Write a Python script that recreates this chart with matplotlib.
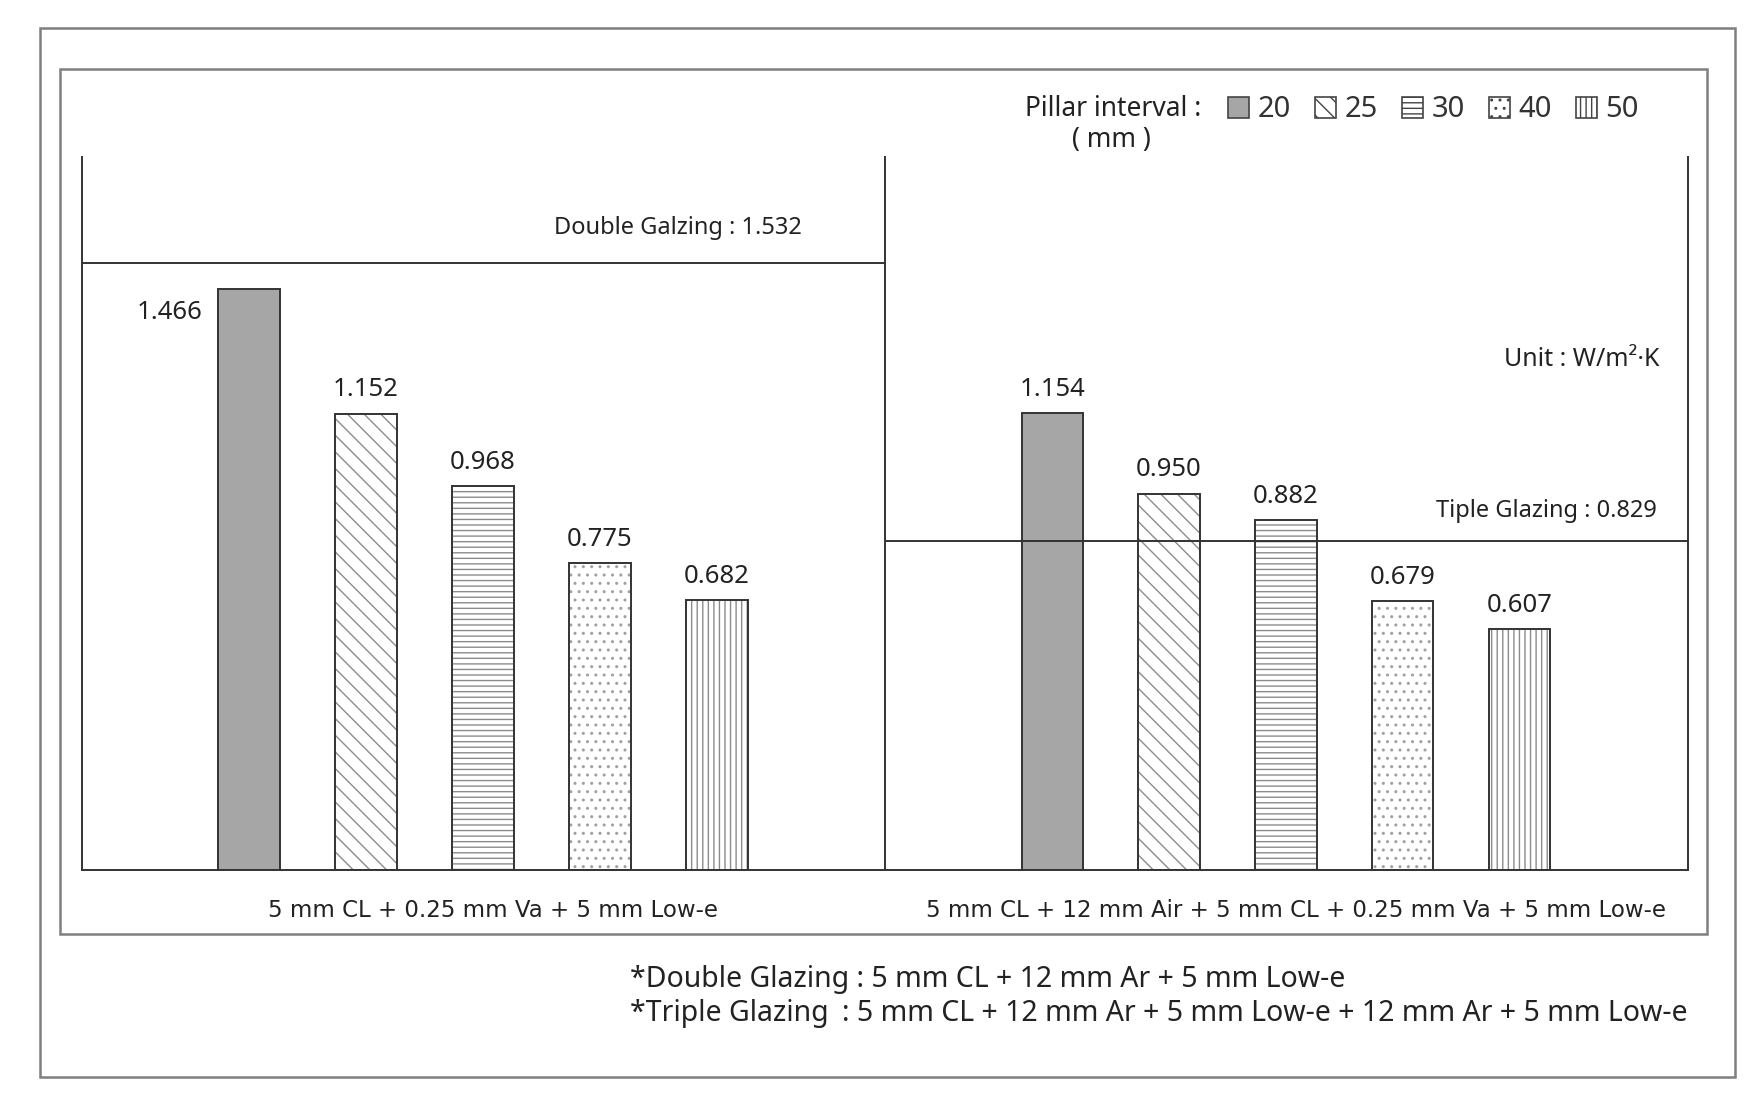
import matplotlib
matplotlib.use("Agg")
import matplotlib.pyplot as plt
from matplotlib.patches import Rectangle, Patch
import numpy as np

plt.rcParams['font.family'] = ['Noto Sans', 'DejaVu Sans']
plt.rcParams['hatch.linewidth'] = 1.0

intervals = ["20", "25", "30", "40", "50"]
vacuum_vals = [1.466, 1.152, 0.968, 0.775, 0.682]
hybrid_vals = [1.154, 0.950, 0.882, 0.679, 0.607]
double_ref = 1.532
triple_ref = 0.829
left_label = "5 mm CL + 0.25 mm Va + 5 mm Low-e"
right_label = "5 mm CL + 12 mm Air + 5 mm CL + 0.25 mm Va + 5 mm Low-e"

fills = ["#a6a6a6", "white", "white", "white", "white"]
hatches = [None, "\\\\", "---", "..", "|||"]
hatch_cols = ["#8c8c8c", "#8c8c8c", "#8c8c8c", "#a0a0a0", "#8c8c8c"]

fig = plt.figure(figsize=(17.56, 11.04), dpi=100)

# frames
fig.patches.append(Rectangle((0.0229, 0.0243), 0.965, 0.9503, transform=fig.transFigure,
                             fill=False, edgecolor="#7f7f7f", lw=1.8, zorder=0))
fig.patches.append(Rectangle((0.0344, 0.1542), 0.9376, 0.7829, transform=fig.transFigure,
                             fill=False, edgecolor="#7f7f7f", lw=1.8, zorder=0))

ax1 = fig.add_axes([0.0465, 0.212, 0.4576, 0.646])
ax2 = fig.add_axes([0.5041, 0.212, 0.4570, 0.646], sharey=ax1)

x = np.arange(len(intervals))
w = 0.526


def draw_group(ax, vals, label):
    for i, v in enumerate(vals):
        ax.bar(x[i], v, w, color=fills[i], hatch=hatches[i], edgecolor=hatch_cols[i],
               linewidth=0, zorder=2)
        ax.bar(x[i], v, w, fill=False, edgecolor="#333333", linewidth=1.4, zorder=3)
    ax.set_xlim(-1.43, 5.44)
    ax.set_ylim(0, 1.8)
    ax.set_yticks([])
    ax.set_xticks([2.09])
    ax.set_xticklabels([label], family="DejaVu Sans", fontsize=16.5, color="#222222")
    ax.tick_params(axis="x", length=0, pad=21)
    ax.spines["top"].set_visible(False)
    for s in ["left", "right", "bottom"]:
        ax.spines[s].set_color("#333333")
        ax.spines[s].set_linewidth(1.4)


draw_group(ax1, vacuum_vals, left_label)
draw_group(ax2, hybrid_vals, right_label)
ax1.spines["right"].set_visible(False)

# value labels
for i, v in enumerate(vacuum_vals):
    if i == 0:
        ax1.annotate(f"{v:.3f}", (x[i] - w / 2, v), xytext=(-11, -17),
                     textcoords="offset points", ha="right", va="center", fontsize=18.5, color="#222")
    else:
        ax1.annotate(f"{v:.3f}", (x[i], v), xytext=(0, 17),
                     textcoords="offset points", ha="center", va="center", fontsize=18.5, color="#222")
for i, v in enumerate(hybrid_vals):
    ax2.annotate(f"{v:.3f}", (x[i], v), xytext=(0, 17),
                 textcoords="offset points", ha="center", va="center", fontsize=18.5, color="#222")

# reference lines
ax1.axhline(double_ref, color="#333333", lw=1.4, zorder=4)
ax2.axhline(triple_ref, color="#333333", lw=1.4, zorder=4)
ax1.annotate(f"Double Galzing : {double_ref}", (3.67, double_ref), xytext=(0, 25),
             textcoords="offset points", ha="center", va="center", fontsize=17, color="#222")
ax2.annotate(f"Tiple Glazing : {triple_ref}", (5.18, triple_ref), xytext=(0, 22),
             textcoords="offset points", ha="right", va="center", fontsize=17, color="#222")
ax2.text(5.20, 1.288, "Unit : W/m²·K", ha="right", va="center", fontsize=18, color="#222")

# legend
fig.text(0.6839, 0.9017, "Pillar interval :", ha="right", va="center", fontsize=19, color="#222")
fig.text(0.6329, 0.8733, "( mm )", ha="center", va="center", fontsize=19, color="#222")
handles = [Patch(facecolor=fills[i], hatch=hatches[i], edgecolor="#444444", lw=1.2, label=intervals[i])
           for i in range(len(intervals))]
fig.legend(handles=handles, loc="center left", bbox_to_anchor=(0.6909, 0.9005), ncol=5,
           frameon=False, fontsize=21, handlelength=0.72, handleheight=0.72, handletextpad=0.3,
           columnspacing=0.82, borderpad=0, labelcolor="#333333")

# footnote
fig.text(0.3588, 0.1126, "*Double Glazing : 5 mm CL + 12 mm Ar + 5 mm Low-e", ha="left",
         va="center", fontsize=20.5, color="#222")
fig.text(0.3588, 0.0822, "*Triple Glazing", ha="left", va="center", fontsize=20.5, color="#222")
fig.text(0.4793, 0.0822, ": 5 mm CL + 12 mm Ar + 5 mm Low-e + 12 mm Ar + 5 mm Low-e", ha="left",
         va="center", fontsize=20.5, color="#222")

fig.savefig("out.png", dpi=100)
